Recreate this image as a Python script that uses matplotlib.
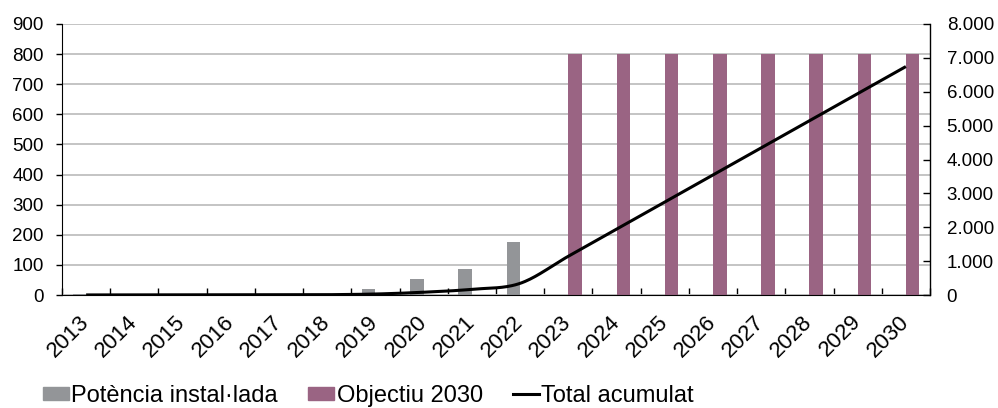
import matplotlib.pyplot as plt
from matplotlib.lines import Line2D
from matplotlib.patches import Patch
import numpy as np

plt.rcParams['font.family'] = ['Liberation Sans', 'DejaVu Sans']

# data
years = ['2013', '2014', '2015', '2016', '2017', '2018', '2019', '2020', '2021',
         '2022', '2023', '2024', '2025', '2026', '2027', '2028', '2029', '2030']
installed = [2, 1, 1, 1, 1, 3, 20, 53, 86, 176, 0, 0, 0, 0, 0, 0, 0, 0]
target = [0, 0, 0, 0, 0, 0, 0, 0, 0, 0, 800, 800, 800, 800, 800, 800, 800, 800]
cumulative = [2, 3, 4, 5, 6, 9, 29, 82, 168, 344, 1144, 1944, 2744, 3544,
              4344, 5144, 5944, 6744]

GRAY = '#939598'
PURPLE = '#9a6483'


def smooth(x, y, n=30):
  # Catmull-Rom curve through the points (like Excel's smoothed line)
  x = np.asarray(x, float)
  y = np.asarray(y, float)
  px = np.concatenate([[2*x[0]-x[1]], x, [2*x[-1]-x[-2]]])
  py = np.concatenate([[2*y[0]-y[1]], y, [2*y[-1]-y[-2]]])
  xs, ys = [], []
  t = np.linspace(0, 1, n)
  for i in range(1, len(px)-2):
    for p, out in ((px, xs), (py, ys)):
      p0, p1, p2, p3 = p[i-1], p[i], p[i+1], p[i+2]
      m1 = (p2 - p0) / 2
      m2 = (p3 - p1) / 2
      h00 = 2*t**3 - 3*t**2 + 1
      h10 = t**3 - 2*t**2 + t
      h01 = -2*t**3 + 3*t**2
      h11 = t**3 - t**2
      out.extend(h00*p1 + h10*m1 + h01*p2 + h11*m2)
  return np.array(xs), np.array(ys)


fig = plt.figure(figsize=(9.98, 4.08), dpi=100)
ax = fig.add_axes([62/998, 1-295/408, (930-62)/998, (295-24)/408])
ax2 = ax.twinx()

x = np.arange(len(years))
w = 0.28
ax.bar(x - w/2, installed, width=w, color=GRAY, zorder=2)
ax.bar(x + w/2, target, width=w, color=PURPLE, zorder=2)

sx, sy = smooth(x, cumulative)
ax2.plot(sx, sy, color='black', linewidth=2.2, solid_capstyle='butt')

ax.set_xlim(-0.5, len(years)-0.5)
ax.set_ylim(0, 900)
ax.set_yticks(range(0, 901, 100))
ax.yaxis.grid(True, color='#bfbfbf', linewidth=1.3)
ax.set_axisbelow(True)

ax2.set_ylim(0, 8000)
ax2.set_yticks(range(0, 8001, 1000))
ax2.set_yticklabels([f'{v:,}'.replace(',', '.') for v in range(0, 8001, 1000)])

ax.set_xticks(x)
ax.set_xticklabels(years, rotation=45, ha='right', va='center', rotation_mode='anchor')
ax.set_xticks(np.arange(-0.5, len(years)), minor=True)
ax.tick_params(axis='x', which='major', length=0, pad=17, labelsize=16)
ax.tick_params(axis='x', which='minor', direction='in', length=5, width=1)
ax.tick_params(axis='y', direction='out', length=4, width=1, labelsize=13.5, pad=9)
ax2.tick_params(axis='y', direction='in', length=5, width=1, labelsize=13.5, pad=12)

for a in (ax, ax2):
  a.spines['top'].set_visible(False)
ax.spines['right'].set_visible(False)
ax2.spines['left'].set_visible(False)
ax2.spines['bottom'].set_visible(False)
ax2.spines['right'].set_linewidth(1)

handles = [Patch(color=GRAY), Patch(color=PURPLE), Line2D([], [], color='black', linewidth=2.2)]
labels = ['Potència instal·lada', 'Objectiu 2030', 'Total acumulat']
fig.legend(handles, labels, loc='center left', bbox_to_anchor=(43/998, 1-396/408), ncol=3,
           frameon=False, fontsize=17, handlelength=1.1, handleheight=0.5,
           handletextpad=0.1, columnspacing=1.28, borderpad=0, borderaxespad=0)

fig.savefig('out.png', dpi=100)
